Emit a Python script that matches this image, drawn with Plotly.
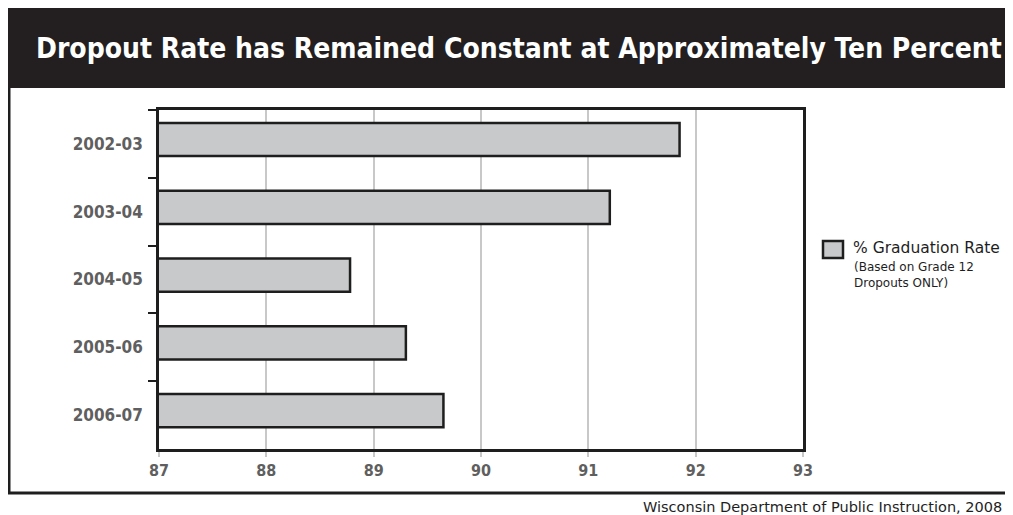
import plotly.graph_objects as go

years = ["2002-03", "2003-04", "2004-05", "2005-06", "2006-07"]
grad_rate = [91.85, 91.2, 88.78, 89.3, 89.65]
x_ticks = [87, 88, 89, 90, 91, 92, 93]
series_name = "% Graduation Rate"
series_note = "(Based on Grade 12<br>Dropouts ONLY)"

# page has an 8px body margin; work in screen px and convert
OFF = 8
W, H = 1013 - OFF, 515 - OFF
L, R, T, B = 159 - OFF, 803 - OFF, 110 - OFF, 449 - OFF

def px(x):
    return (x - OFF - L) / (R - L)

def py(y):
    return (B - (y - OFF)) / (B - T)

BAR_FILL = "#c8c9cb"
INK = "#1e1e1e"

fig = go.Figure()
fig.add_trace(go.Bar(
    y=years, x=grad_rate, orientation="h",
    width=0.49, offset=-0.31,
    marker=dict(color=BAR_FILL, line=dict(color=INK, width=2.5)),
    name=series_name, showlegend=False,
))

fig.update_layout(
    width=W, height=H,
    margin=dict(l=L, r=W - R, t=T, b=H - B),
    paper_bgcolor="white", plot_bgcolor="white",
    font=dict(family="DejaVu Sans Condensed", color=INK),
    xaxis=dict(
        range=[87, 93], tickvals=x_ticks, showgrid=True, gridcolor="#c8c8c8", gridwidth=2,
        showline=True, linecolor=INK, linewidth=2.5, mirror=True,
        ticks="outside", ticklen=5, tickwidth=2, tickcolor="#c8c8c8",
        tickfont=dict(family="DejaVu Sans Condensed", size=16, color="#5f5f5f", weight="bold"),
        zeroline=False, fixedrange=True,
    ),
    yaxis=dict(
        type="category", autorange="reversed", showgrid=False,
        showline=True, linecolor=INK, linewidth=2.5, mirror=True,
        ticks="outside", tickson="boundaries", ticklen=8, tickwidth=2, tickcolor=INK,
        tickfont=dict(family="DejaVu Sans Condensed", size=17, color="#5f5f5f", weight="bold"),
        ticklabelstandoff=10,
    ),
    showlegend=False,
    shapes=[
        dict(type="rect", xref="paper", yref="paper", x0=px(8), x1=px(1030), y0=py(88), y1=py(8),
             fillcolor="#231f20", line=dict(width=0), layer="below"),
        dict(type="line", xref="paper", yref="paper", x0=px(9), x1=px(9), y0=py(88), y1=py(493),
             line=dict(color=INK, width=3)),
        dict(type="line", xref="paper", yref="paper", x0=px(8), x1=px(1030), y0=py(493), y1=py(493),
             line=dict(color=INK, width=3)),
        # legend swatch
        dict(type="rect", xref="paper", yref="paper", x0=px(823), x1=px(843), y0=py(241), y1=py(258),
             fillcolor=BAR_FILL, line=dict(color=INK, width=2.5)),
    ],
    annotations=[
        dict(text="Dropout Rate has Remained Constant at Approximately Ten Percent",
             xref="paper", yref="paper", x=px(519), y=py(48), xanchor="center", yanchor="middle",
             showarrow=False, font=dict(family="DejaVu Sans Condensed", size=28, color="white", weight="bold")),
        dict(text=series_name, xref="paper", yref="paper", x=px(851), y=py(248),
             xanchor="left", yanchor="middle", showarrow=False,
             font=dict(family="DejaVu Sans", size=15.5, color=INK)),
        dict(text=series_note, xref="paper", yref="paper", x=px(852), y=py(258), align="left",
             xanchor="left", yanchor="top", showarrow=False,
             font=dict(family="DejaVu Sans", size=12, color=INK)),
        dict(text="Wisconsin Department of Public Instruction, 2008",
             xref="paper", yref="paper", x=px(641), y=py(507), xanchor="left", yanchor="middle",
             showarrow=False, font=dict(family="DejaVu Sans", size=14.5, color=INK)),
    ],
)

fig.write_html("out.html")
